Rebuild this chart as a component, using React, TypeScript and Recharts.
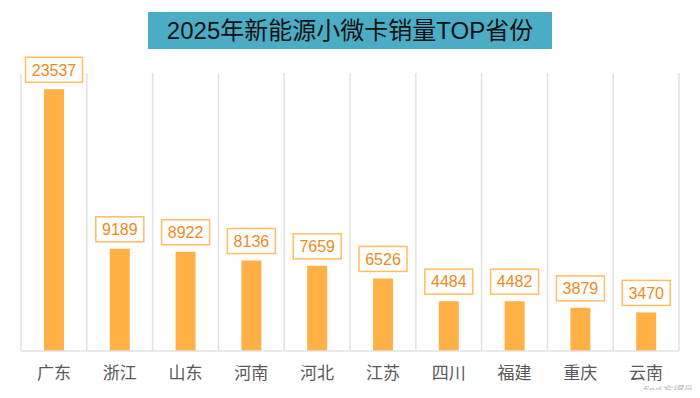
import { BarChart, Bar, XAxis, YAxis, CartesianGrid, LabelList } from 'recharts';

const provinces = ['广东', '浙江', '山东', '河南', '河北', '江苏', '四川', '福建', '重庆', '云南'];
const sales = [23537, 9189, 8922, 8136, 7659, 6526, 4484, 4482, 3879, 3470];

const chartData = provinces.map((name, i) => ({ name, sales: sales[i] }));

const BoxLabel = (props: any) => {
  const { x, y, width, value } = props;
  const text = String(value);
  const boxW = text.length * 9 + 12;
  const boxH = 25;
  const cx = x + width / 2;
  const bottom = y - 7;
  return (
    <g>
      <rect x={cx - boxW / 2} y={bottom - boxH} width={boxW} height={boxH} fill="#fff" stroke="#FFBE62" strokeWidth={1.5} />
      <text x={cx} y={bottom - boxH / 2} dy="0.36em" textAnchor="middle" fill="#EE8A1E" fontSize={16} fontFamily="'Liberation Sans', Arial, sans-serif">
        {text}
      </text>
    </g>
  );
};

// grid lines sit on the category edges, not on the tick centres
const categoryBounds = ({ offset }: any) => {
  const step = offset.width / provinces.length;
  return provinces.map((_, i) => offset.left + i * step).concat(offset.left + offset.width);
};

export default function App() {
  return (
    <div style={{ position: 'relative', width: 700, height: 398, margin: -8, boxSizing: 'border-box', border: '2px solid #a0a0a0', background: '#fff', overflow: 'hidden' }}>
      <div style={{
        position: 'absolute', left: 146, top: 10, width: 404, height: 37,
        background: '#4BACC6', color: '#111', fontSize: 24, lineHeight: '37px', textAlign: 'center',
        fontFamily: "'Liberation Sans', 'Noto Sans CJK SC', sans-serif",
      }}>
        2025年新能源小微卡销量TOP省份
      </div>
      <div style={{ position: 'absolute', left: -2, top: -2 }}>
        <BarChart width={700} height={398} data={chartData} margin={{ top: 73, right: 21, left: 21, bottom: 17 }} barCategoryGap={0}>
          <CartesianGrid horizontal={false} stroke="#E2E2E2" strokeWidth={1.5} verticalCoordinatesGenerator={categoryBounds} />
          <XAxis
            dataKey="name"
            height={30}
            axisLine={{ stroke: '#E2E2E2', strokeWidth: 1.5 }}
            tickLine={false}
            tick={{ fill: '#595959', fontSize: 17, fontFamily: "'Noto Sans CJK SC', sans-serif" }}
            dy={8}
          />
          <YAxis hide domain={[0, 25000]} />
          <Bar dataKey="sales" fill="#FFB145" barSize={20} isAnimationActive={false}>
            <LabelList dataKey="sales" content={BoxLabel} />
          </Bar>
        </BarChart>
      </div>
      <div style={{
        position: 'absolute', right: 4, bottom: 0, color: '#bdbdbd', fontSize: 11, lineHeight: '12px', fontStyle: 'italic',
        fontFamily: "'Liberation Sans', 'Noto Sans CJK SC', sans-serif",
      }}>
        find方得网
      </div>
    </div>
  );
}
